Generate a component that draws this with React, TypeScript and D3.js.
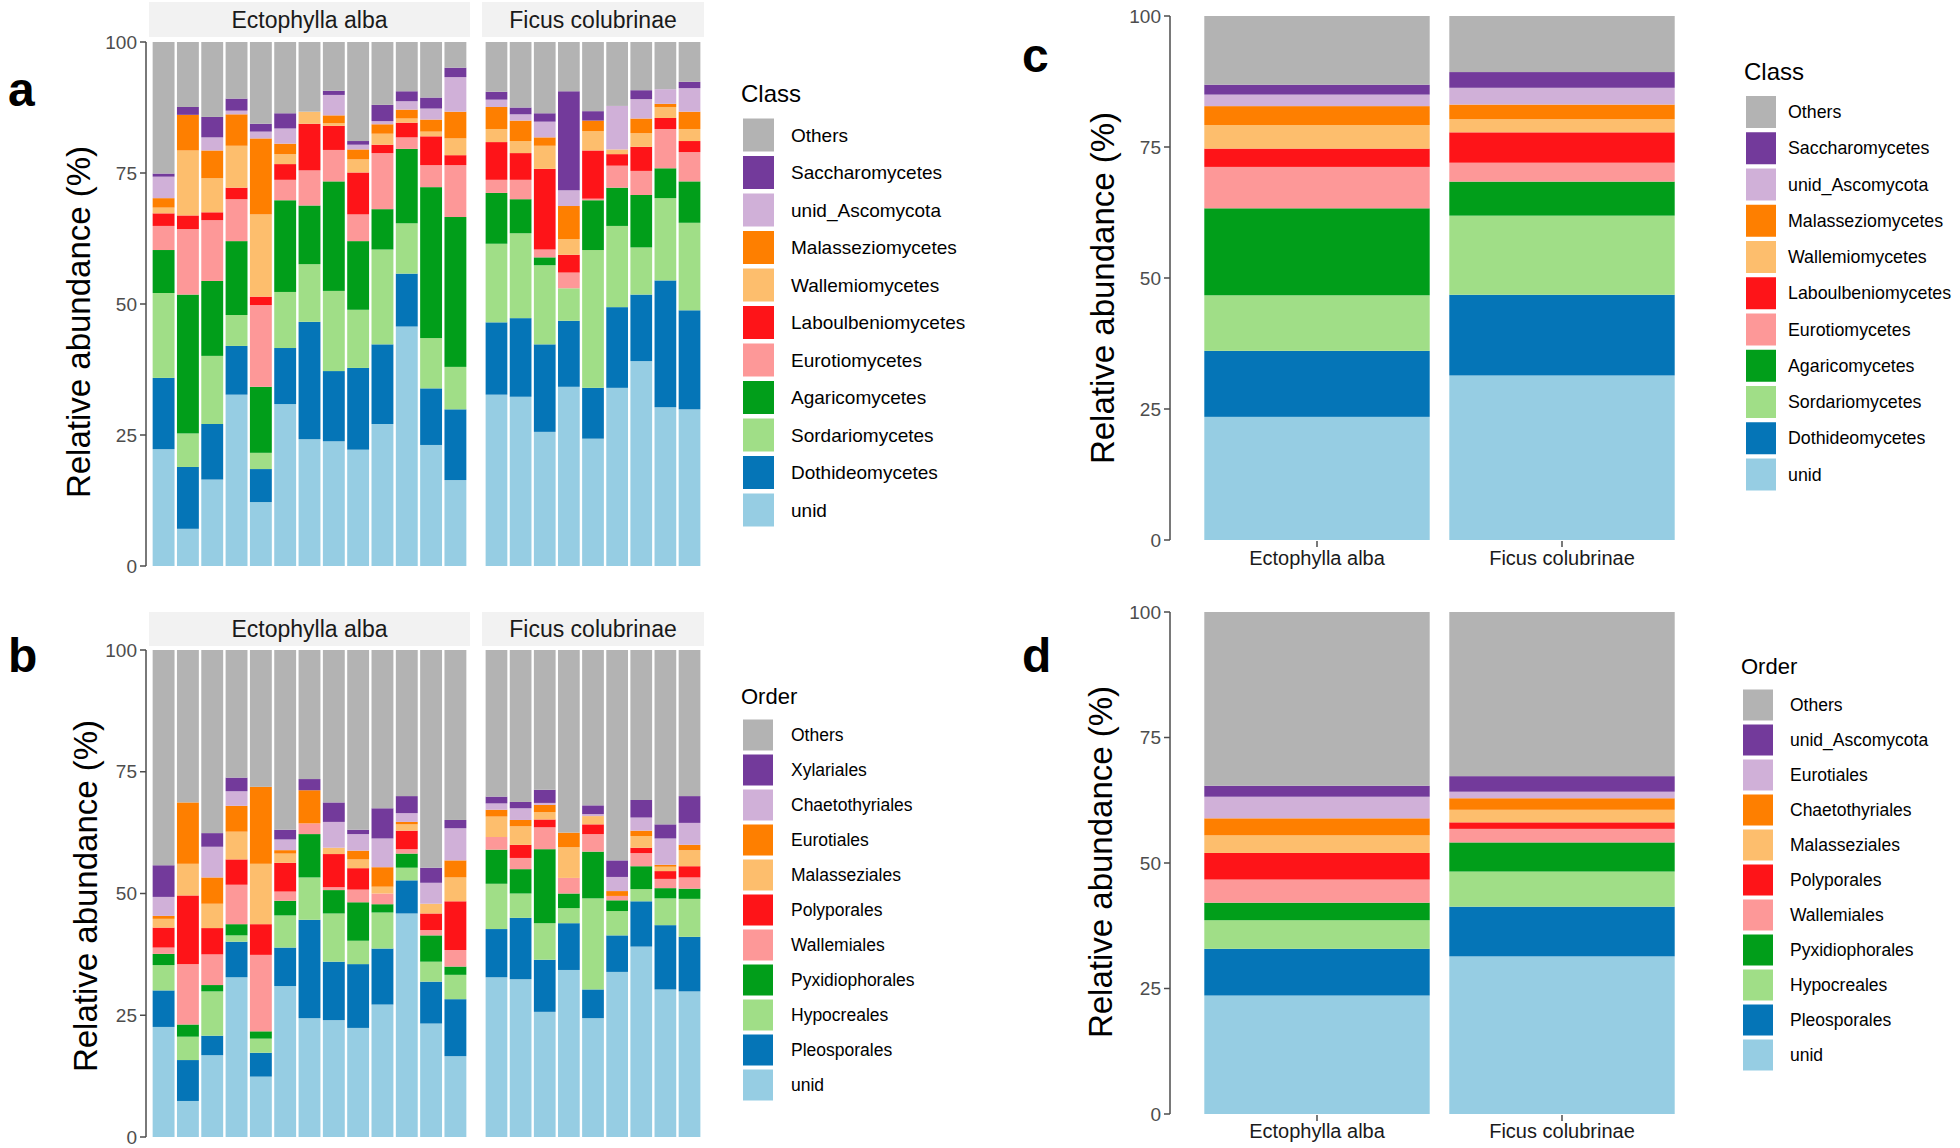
import React from "react";
import * as d3 from "d3";

// stack order, bottom -> top
const CLASS_KEYS = ["unid", "Dothideomycetes", "Sordariomycetes", "Agaricomycetes", "Eurotiomycetes", "Laboulbeniomycetes", "Wallemiomycetes", "Malasseziomycetes", "unid_Ascomycota", "Saccharomycetes", "Others"];
const ORDER_KEYS_B = ["unid", "Pleosporales", "Hypocreales", "Pyxidiophorales", "Wallemiales", "Polyporales", "Malasseziales", "Eurotiales", "Chaetothyriales", "Xylariales", "Others"];
const ORDER_KEYS_D = ["unid", "Pleosporales", "Hypocreales", "Pyxidiophorales", "Wallemiales", "Polyporales", "Malasseziales", "Chaetothyriales", "Eurotiales", "unid_Ascomycota", "Others"];
const PALETTE = ["#96cde3", "#0575b7", "#a0de87", "#019e1a", "#fd9898", "#fe1418", "#fdbe6d", "#fe7f00", "#d0b0d8", "#733a9b", "#b3b3b3"];

const HOSTS = ["Ectophylla alba", "Ficus colubrinae"];
const TICKS = [0, 25, 50, 75, 100];

// panel a: one row per sample, values (%) in CLASS_KEYS order
const classEcto = [
  [22.3, 13.6, 16.2, 8.2, 4.6, 2.4, 1.1, 1.8, 4.1, 0.6, 25.1],
  [7.1, 11.8, 6.4, 26.5, 12.5, 2.6, 12.4, 6.8, 0, 1.5, 12.4],
  [16.5, 10.6, 13.0, 14.3, 11.6, 1.5, 6.5, 5.3, 2.5, 3.9, 14.3],
  [32.7, 9.3, 5.9, 14.1, 8.0, 2.2, 8.0, 6.0, 0.7, 2.3, 10.8],
  [12.2, 6.3, 3.1, 12.6, 15.6, 1.6, 15.7, 14.5, 1.3, 1.5, 15.6],
  [30.9, 10.7, 10.7, 17.5, 3.9, 3.0, 1.9, 2.0, 2.9, 2.9, 13.6],
  [24.2, 22.4, 11.0, 11.2, 6.7, 8.9, 2.3, 0, 0, 0, 13.3],
  [23.8, 13.4, 15.3, 20.9, 6.0, 4.6, 0.5, 1.5, 3.9, 0.8, 9.3],
  [22.2, 15.6, 11.1, 13.1, 5.1, 8.0, 2.5, 1.9, 0.9, 0.7, 18.9],
  [27.1, 15.2, 18.1, 7.7, 10.7, 1.6, 2.1, 1.8, 0.6, 3.1, 12.0],
  [45.7, 10.1, 9.6, 14.2, 2.2, 2.8, 0.8, 1.7, 1.6, 1.9, 9.4],
  [23.1, 10.8, 9.6, 28.8, 4.2, 5.5, 0.9, 2.3, 2.1, 2.1, 10.6],
  [16.4, 13.5, 8.1, 28.6, 9.9, 1.9, 3.2, 5.1, 6.6, 1.8, 4.9],
];
const classFicus = [
  [32.7, 13.8, 15.0, 9.7, 2.5, 7.2, 2.5, 4.2, 1.4, 1.5, 9.5],
  [32.3, 15.0, 16.2, 6.5, 3.7, 5.1, 2.3, 3.9, 1.2, 1.3, 12.5],
  [25.6, 16.7, 15.1, 1.5, 1.5, 15.4, 4.4, 1.6, 3.0, 1.6, 13.6],
  [34.2, 12.6, 6.2, 0, 3.0, 3.4, 3.0, 6.3, 3.0, 18.9, 9.4],
  [24.3, 9.7, 26.3, 9.5, 0.3, 9.2, 3.7, 2.0, 0, 1.8, 13.2],
  [34.0, 15.4, 15.5, 7.3, 4.2, 2.2, 0.9, 0, 8.3, 0, 12.2],
  [39.1, 12.7, 9.0, 10.0, 4.6, 4.6, 2.6, 2.8, 3.7, 1.7, 9.2],
  [30.3, 24.2, 15.7, 5.7, 7.5, 2.1, 2.1, 0.6, 2.8, 0, 9.0],
  [29.9, 18.9, 16.7, 7.9, 5.6, 2.1, 2.3, 3.3, 4.5, 1.2, 7.6],
];

// panel b: ORDER_KEYS_B order
const orderEcto = [
  [22.6, 7.5, 5.2, 2.3, 1.3, 4.1, 1.8, 0.6, 3.9, 6.5, 44.2],
  [7.4, 8.4, 4.8, 2.5, 12.4, 14.1, 6.5, 12.6, 0, 0, 31.3],
  [16.8, 4.0, 9.1, 1.3, 6.3, 5.4, 5.0, 5.4, 6.3, 2.8, 37.6],
  [32.8, 7.3, 1.3, 2.3, 8.1, 5.2, 5.7, 5.3, 3.0, 2.8, 26.2],
  [12.4, 4.9, 2.9, 1.5, 15.7, 6.3, 12.4, 15.8, 0, 0, 28.1],
  [31.0, 7.9, 6.6, 3.0, 1.9, 5.9, 1.9, 0.7, 2.2, 2.0, 36.9],
  [24.4, 20.2, 8.7, 8.9, 2.2, 0, 0, 6.8, 0, 2.3, 26.5],
  [24.0, 12.0, 9.9, 4.8, 0.6, 6.8, 1.3, 0, 5.3, 4.0, 31.3],
  [22.4, 13.1, 4.8, 7.9, 2.6, 4.4, 1.8, 1.8, 3.4, 0.9, 36.9],
  [27.2, 11.5, 7.4, 1.7, 2.2, 0, 1.4, 4.0, 5.9, 6.2, 32.5],
  [45.9, 6.8, 2.6, 2.9, 0.9, 3.8, 1.3, 0.5, 1.8, 3.5, 30.0],
  [23.3, 8.6, 4.1, 5.4, 1.1, 3.4, 2.0, 0, 4.3, 3.1, 44.7],
  [16.6, 11.7, 5.0, 1.7, 3.4, 10.0, 4.9, 3.5, 6.6, 1.7, 34.9],
];
const orderFicus = [
  [32.8, 9.9, 9.3, 7.0, 2.6, 0, 4.2, 1.4, 1.3, 1.4, 30.1],
  [32.4, 12.6, 5.0, 5.0, 2.3, 2.7, 3.8, 1.3, 2.4, 1.3, 31.2],
  [25.7, 10.7, 7.5, 15.2, 4.5, 1.6, 1.5, 1.5, 0.4, 2.7, 28.7],
  [34.3, 9.6, 3.1, 3.0, 3.2, 0, 6.3, 3.0, 0, 0, 37.5],
  [24.4, 5.9, 18.7, 9.6, 3.6, 2.0, 1.7, 0, 0.4, 1.8, 31.9],
  [33.9, 7.5, 5.0, 2.2, 0.9, 0, 0, 1.0, 2.9, 3.4, 43.2],
  [39.1, 9.3, 2.5, 4.7, 2.7, 1.1, 2.4, 1.1, 2.7, 3.6, 30.8],
  [30.3, 13.2, 5.5, 2.1, 1.9, 1.6, 0.9, 0.4, 5.4, 2.9, 35.8],
  [29.9, 11.2, 7.8, 2.1, 2.3, 2.3, 3.3, 1.1, 4.5, 5.5, 30.0],
];

// panel c (CLASS_KEYS) and panel d (ORDER_KEYS_D), pooled by host
const classPooled = [
  [23.5, 12.6, 10.6, 16.6, 7.9, 3.5, 4.5, 3.6, 2.2, 1.9, 13.1],
  [31.4, 15.4, 15.1, 6.5, 3.6, 5.8, 2.5, 2.8, 3.2, 3.0, 10.7],
];
const orderPooled = [
  [23.6, 9.3, 5.7, 3.5, 4.6, 5.3, 3.5, 3.4, 4.3, 2.2, 34.6],
  [31.4, 9.9, 7.0, 5.8, 2.7, 1.3, 2.5, 2.3, 1.3, 3.1, 32.7],
];

const FONT = "'Liberation Sans', Arial, sans-serif";
const AXIS_GREY = "#4d4d4d";

const toRecords = (rows, keys, prefix) =>
  rows.map((r, i) => {
    const o = { id: `${prefix}${i}` };
    keys.forEach((k, j) => (o[k] = r[j]));
    return o;
  });

const Bars = ({ rows, keys, x0, x1, yScale, padIn = 0.1, padOut = 0.15, prefix }) => {
  const records = toRecords(rows, keys, prefix);
  const xScale = d3.scaleBand().domain(records.map((d) => d.id)).range([x0, x1]).paddingInner(padIn).paddingOuter(padOut);
  const color = d3.scaleOrdinal().domain(keys).range(PALETTE);
  const series = d3.stack().keys(keys)(records);
  return (
    <g>
      {series.map((s) => (
        <g key={s.key} fill={color(s.key)}>
          {s.map((d, j) =>
            d[1] - d[0] > 0 ? (
              <rect
                key={j}
                x={xScale(d.data.id)}
                width={xScale.bandwidth()}
                y={yScale(d[1])}
                height={yScale(d[0]) - yScale(d[1])}
              />
            ) : null
          )}
        </g>
      ))}
    </g>
  );
};

const YAxis = ({ x, yScale, fontSize = 19 }) => (
  <g>
    <line x1={x} x2={x} y1={yScale(0)} y2={yScale(100)} stroke={AXIS_GREY} strokeWidth={1.5} />
    {TICKS.map((t) => (
      <g key={t} transform={`translate(${x},${yScale(t)})`}>
        <line x1={-6} x2={0} stroke={AXIS_GREY} strokeWidth={1.5} />
        <text x={-9} dy="0.35em" textAnchor="end" fontSize={fontSize} fill={AXIS_GREY} fontFamily={FONT}>
          {t}
        </text>
      </g>
    ))}
  </g>
);

const YTitle = ({ x, y }) => (
  <text transform={`translate(${x},${y}) rotate(-90)`} textAnchor="middle" dy="0.35em" fontSize={33} fill="#000" fontFamily={FONT}>
    Relative abundance (%)
  </text>
);

const PanelLabel = ({ x, y, children }) => (
  <text x={x} y={y} fontSize={48} fontWeight="bold" fontFamily={FONT} fill="#000">
    {children}
  </text>
);

const Legend = ({ x, titleY, title, keys, firstY, step, keyW, keyH, textX, fontSize, titleSize }) => {
  const color = d3.scaleOrdinal().domain(keys).range(PALETTE);
  const items = [...keys].reverse();
  return (
    <g fontFamily={FONT}>
      <text x={x} y={titleY} dy="0.35em" fontSize={titleSize} fill="#000">
        {title}
      </text>
      {items.map((k, i) => (
        <g key={k} transform={`translate(0,${firstY + i * step})`}>
          <rect x={x + 2} y={-keyH / 2} width={keyW} height={keyH} fill={color(k)} />
          <text x={textX} dy="0.35em" fontSize={fontSize} fill="#000">
            {k}
          </text>
        </g>
      ))}
    </g>
  );
};

const FacetPanel = ({ left, right, keys, yTop, yBottom, stripTop, stripBottom, prefix }) => {
  const yScale = d3.scaleLinear().domain([0, 100]).range([yBottom, yTop]);
  const facets = [
    { name: HOSTS[0], rows: left, x0: 149, x1: 470 },
    { name: HOSTS[1], rows: right, x0: 482, x1: 704 },
  ];
  return (
    <g>
      {facets.map((f, i) => (
        <g key={f.name}>
          <rect x={f.x0} y={stripTop} width={f.x1 - f.x0} height={stripBottom - stripTop} fill="#f2f2f2" />
          <text x={(f.x0 + f.x1) / 2} y={(stripTop + stripBottom) / 2} dy="0.36em" textAnchor="middle" fontSize={23} fill="#1a1a1a" fontFamily={FONT}>
            {f.name}
          </text>
          <Bars rows={f.rows} keys={keys} x0={f.x0} x1={f.x1} yScale={yScale} prefix={`${prefix}${i}_`} />
        </g>
      ))}
      <YAxis x={146} yScale={yScale} />
    </g>
  );
};

const PooledPanel = ({ rows, keys, yTop, yBottom, labelY, prefix }) => {
  const yScale = d3.scaleLinear().domain([0, 100]).range([yBottom, yTop]);
  const xScale = d3.scaleBand().domain(HOSTS).range([1170, 1709]).paddingInner(0.08).paddingOuter(0.14);
  return (
    <g>
      <Bars rows={rows} keys={keys} x0={1170} x1={1709} yScale={yScale} padIn={0.08} padOut={0.14} prefix={prefix} />
      <YAxis x={1170} yScale={yScale} />
      {HOSTS.map((h) => {
        const cx = xScale(h) + xScale.bandwidth() / 2;
        return (
          <g key={h}>
            <line x1={cx} x2={cx} y1={yBottom + 1} y2={yBottom + 7} stroke={AXIS_GREY} strokeWidth={1.5} />
            <text x={cx} y={labelY} dy="0.35em" textAnchor="middle" fontSize={20} fill="#1a1a1a" fontFamily={FONT}>
              {h}
            </text>
          </g>
        );
      })}
    </g>
  );
};

export default function App() {
  return (
    <svg width={1960} height={1148} style={{ position: "absolute", left: 0, top: 0, background: "#fff" }}>
      <rect width={1960} height={1148} fill="#fff" />

      {/* a */}
      <PanelLabel x={8} y={106}>a</PanelLabel>
      <FacetPanel left={classEcto} right={classFicus} keys={CLASS_KEYS} yTop={42} yBottom={566} stripTop={2} stripBottom={37} prefix="a" />
      <YTitle x={78} y={322} />
      <Legend x={741} titleY={94} title="Class" keys={CLASS_KEYS} firstY={135} step={37.5} keyW={31} keyH={33} textX={791} fontSize={19} titleSize={24} />

      {/* b */}
      <PanelLabel x={8} y={672}>b</PanelLabel>
      <FacetPanel left={orderEcto} right={orderFicus} keys={ORDER_KEYS_B} yTop={650} yBottom={1137} stripTop={612} stripBottom={646} prefix="b" />
      <YTitle x={85} y={896} />
      <Legend x={741} titleY={696} title="Order" keys={ORDER_KEYS_B} firstY={735} step={35} keyW={30} keyH={31} textX={791} fontSize={17.5} titleSize={22} />

      {/* c */}
      <PanelLabel x={1022} y={72}>c</PanelLabel>
      <PooledPanel rows={classPooled} keys={CLASS_KEYS} yTop={16} yBottom={540} labelY={558} prefix="c" />
      <YTitle x={1102} y={288} />
      <Legend x={1744} titleY={72} title="Class" keys={CLASS_KEYS} firstY={112} step={36.25} keyW={30} keyH={32} textX={1788} fontSize={17.8} titleSize={24} />

      {/* d */}
      <PanelLabel x={1022} y={672}>d</PanelLabel>
      <PooledPanel rows={orderPooled} keys={ORDER_KEYS_D} yTop={612} yBottom={1114} labelY={1131} prefix="d" />
      <YTitle x={1100} y={862} />
      <Legend x={1741} titleY={666} title="Order" keys={ORDER_KEYS_D} firstY={705} step={35} keyW={30} keyH={31} textX={1790} fontSize={17.5} titleSize={22} />
    </svg>
  );
}
